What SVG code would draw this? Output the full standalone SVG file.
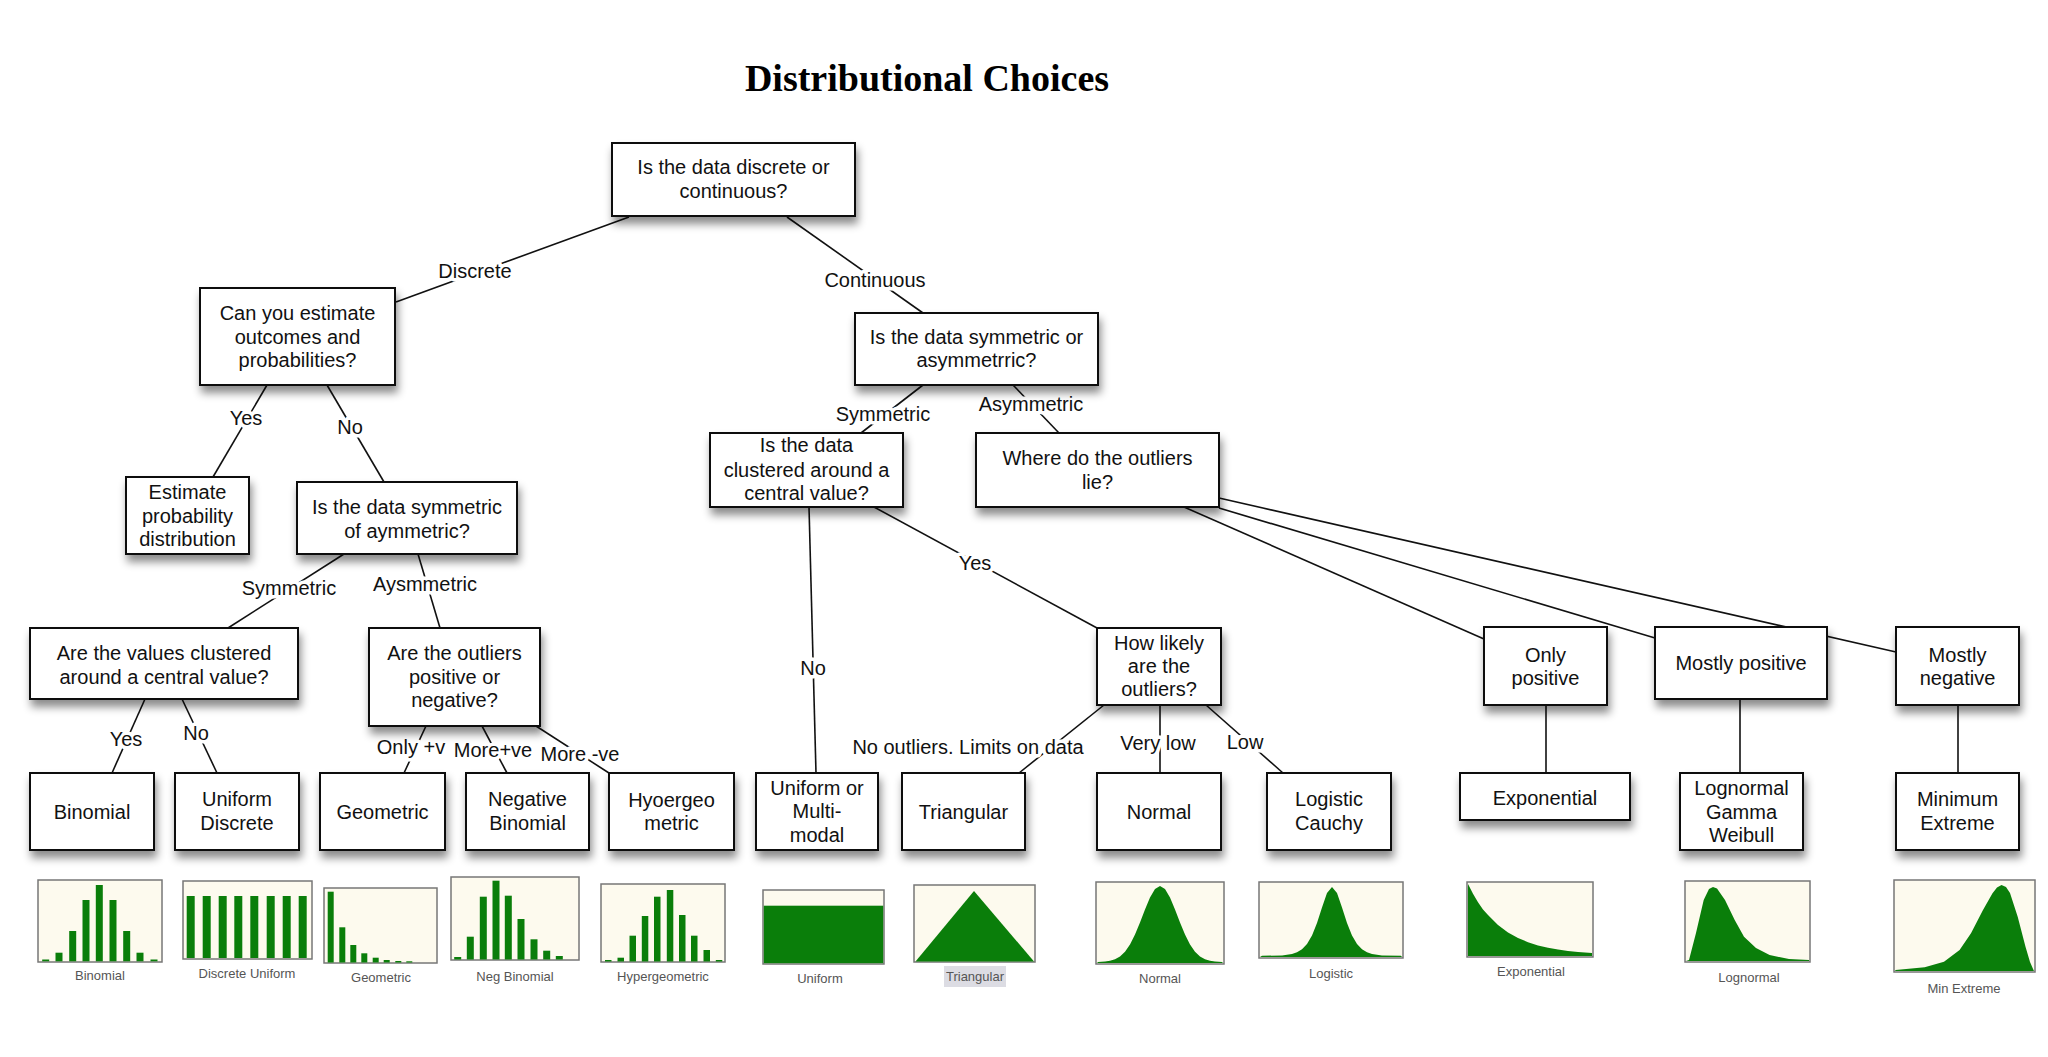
<svg xmlns="http://www.w3.org/2000/svg" width="2048" height="1057" viewBox="0 0 2048 1057">
<defs>
<filter id="sh" x="-20%" y="-20%" width="140%" height="160%">
<feDropShadow dx="2" dy="7" stdDeviation="4" flood-color="#000" flood-opacity="0.45"/>
</filter>
<style>
.bx{fill:#fff;stroke:#111;stroke-width:2;filter:url(#sh)}
.t{font-family:"Liberation Sans",Arial,sans-serif;font-size:20px;text-anchor:middle;fill:#111}
.lbl{font-family:"Liberation Sans",Arial,sans-serif;font-size:20px;text-anchor:middle;fill:#111;stroke:#fff;stroke-width:7;stroke-linejoin:round;paint-order:stroke}
.cn{stroke:#111;stroke-width:1.6;fill:none}
.ch{fill:#fdfaee;stroke:#777;stroke-width:1.5}
.g{fill:#0a7e0a}
.cl{font-family:"Liberation Sans",Arial,sans-serif;font-size:13px;text-anchor:middle;fill:#555}
</style>
</defs>
<rect width="2048" height="1057" fill="#fff"/>
<text x="927" y="91" font-family="Liberation Serif,'Times New Roman',serif" font-size="38" font-weight="bold" text-anchor="middle" fill="#000">Distributional Choices</text>

<g id="connectors">
<line class="cn" x1="629" y1="217" x2="396" y2="302"/>
<line class="cn" x1="787" y1="217" x2="923" y2="313"/>
<line class="cn" x1="267" y1="385" x2="213" y2="477"/>
<line class="cn" x1="327" y1="385" x2="384" y2="482"/>
<line class="cn" x1="344" y1="554" x2="228" y2="628"/>
<line class="cn" x1="418" y1="554" x2="440" y2="628"/>
<line class="cn" x1="923" y1="385" x2="861" y2="433"/>
<line class="cn" x1="1013" y1="385" x2="1059" y2="433"/>
<line class="cn" x1="809" y1="507" x2="816" y2="773"/>
<line class="cn" x1="874" y1="507" x2="1097" y2="628"/>
<line class="cn" x1="1184" y1="507" x2="1484" y2="639"/>
<line class="cn" x1="1219" y1="508" x2="1655" y2="638"/>
<line class="cn" x1="1219" y1="498" x2="1896" y2="652"/>
<line class="cn" x1="145" y1="699" x2="112" y2="773"/>
<line class="cn" x1="182" y1="699" x2="217" y2="773"/>
<line class="cn" x1="426" y1="726" x2="404" y2="773"/>
<line class="cn" x1="482" y1="726" x2="507" y2="773"/>
<line class="cn" x1="536" y1="726" x2="609" y2="773"/>
<line class="cn" x1="1104" y1="705" x2="1019" y2="773"/>
<line class="cn" x1="1160" y1="705" x2="1160" y2="773"/>
<line class="cn" x1="1206" y1="705" x2="1283" y2="773"/>
<line class="cn" x1="1546" y1="705" x2="1546" y2="773"/>
<line class="cn" x1="1740" y1="699" x2="1740" y2="773"/>
<line class="cn" x1="1958" y1="705" x2="1958" y2="773"/>
<text class="lbl" x="475" y="278">Discrete</text>
<text class="lbl" x="875" y="287">Continuous</text>
<text class="lbl" x="246" y="425">Yes</text>
<text class="lbl" x="350" y="434">No</text>
<text class="lbl" x="289" y="595">Symmetric</text>
<text class="lbl" x="425" y="591">Aysmmetric</text>
<text class="lbl" x="883" y="421">Symmetric</text>
<text class="lbl" x="1031" y="411">Asymmetric</text>
<text class="lbl" x="813" y="675">No</text>
<text class="lbl" x="975" y="570">Yes</text>
<text class="lbl" x="126" y="746">Yes</text>
<text class="lbl" x="196" y="740">No</text>
<text class="lbl" x="411" y="754">Only +v</text>
<text class="lbl" x="493" y="757">More+ve</text>
<text class="lbl" x="580" y="761">More -ve</text>
<text class="lbl" x="968" y="754">No outliers. Limits on data</text>
<text class="lbl" x="1158" y="750">Very low</text>
<text class="lbl" x="1245" y="749">Low</text>
</g>

<g id="n-root"><rect class="bx" x="612" y="143" width="243" height="73"/><text class="t"><tspan x="733.5" y="174">Is the data discrete or</tspan><tspan x="733.5" y="198">continuous?</tspan></text></g>
<g id="n-estimate-q"><rect class="bx" x="200" y="288" width="195" height="97"/><text class="t"><tspan x="297.5" y="320">Can you estimate</tspan><tspan x="297.5" y="344">outcomes and</tspan><tspan x="297.5" y="367">probabilities?</tspan></text></g>
<g id="n-estimate"><rect class="bx" x="126" y="477" width="123" height="77"/><text class="t"><tspan x="187.5" y="499">Estimate</tspan><tspan x="187.5" y="522.5">probability</tspan><tspan x="187.5" y="546">distribution</tspan></text></g>
<g id="n-disc-sym"><rect class="bx" x="297" y="482" width="220" height="72"/><text class="t"><tspan x="407" y="514">Is the data symmetric</tspan><tspan x="407" y="538">of aymmetric?</tspan></text></g>
<g id="n-cont-sym"><rect class="bx" x="855" y="313" width="243" height="72"/><text class="t"><tspan x="976.5" y="343.5">Is the data symmetric or</tspan><tspan x="976.5" y="366.5">asymmetrric?</tspan></text></g>
<g id="n-cont-clustered"><rect class="bx" x="710" y="433" width="193" height="74"/><text class="t"><tspan x="806.5" y="452">Is the data</tspan><tspan x="806.5" y="477">clustered around a</tspan><tspan x="806.5" y="500">central value?</tspan></text></g>
<g id="n-where"><rect class="bx" x="976" y="433" width="243" height="74"/><text class="t"><tspan x="1097.5" y="465">Where do the outliers</tspan><tspan x="1097.5" y="488.5">lie?</tspan></text></g>
<g id="n-disc-clustered"><rect class="bx" x="30" y="628" width="268" height="71"/><text class="t"><tspan x="164" y="659.5">Are the values clustered</tspan><tspan x="164" y="683.5">around a central value?</tspan></text></g>
<g id="n-outliers-sign"><rect class="bx" x="369" y="628" width="171" height="98"/><text class="t"><tspan x="454.5" y="659.5">Are the outliers</tspan><tspan x="454.5" y="683.5">positive or</tspan><tspan x="454.5" y="707">negative?</tspan></text></g>
<g id="n-how-likely"><rect class="bx" x="1097" y="628" width="124" height="77"/><text class="t"><tspan x="1159" y="649.5">How likely</tspan><tspan x="1159" y="672.5">are the</tspan><tspan x="1159" y="696">outliers?</tspan></text></g>
<g id="n-only-pos"><rect class="bx" x="1484" y="627" width="123" height="78"/><text class="t"><tspan x="1545.5" y="662">Only</tspan><tspan x="1545.5" y="685">positive</tspan></text></g>
<g id="n-mostly-pos"><rect class="bx" x="1655" y="627" width="172" height="72"/><text class="t" x="1741" y="670">Mostly positive</text></g>
<g id="n-mostly-neg"><rect class="bx" x="1896" y="627" width="123" height="78"/><text class="t"><tspan x="1957.5" y="662">Mostly</tspan><tspan x="1957.5" y="685">negative</tspan></text></g>

<g id="n-binomial"><rect class="bx" x="30" y="773" width="124" height="77"/><text class="t" x="92" y="818.5">Binomial</text></g>
<g id="n-unif-disc"><rect class="bx" x="175" y="773" width="124" height="77"/><text class="t"><tspan x="237" y="806">Uniform</tspan><tspan x="237" y="830">Discrete</tspan></text></g>
<g id="n-geometric"><rect class="bx" x="320" y="773" width="125" height="77"/><text class="t" x="382.5" y="818.5">Geometric</text></g>
<g id="n-negbin"><rect class="bx" x="466" y="773" width="123" height="77"/><text class="t"><tspan x="527.5" y="806">Negative</tspan><tspan x="527.5" y="830">Binomial</tspan></text></g>
<g id="n-hyper"><rect class="bx" x="609" y="773" width="125" height="77"/><text class="t"><tspan x="671.5" y="807">Hyoergeo</tspan><tspan x="671.5" y="830">metric</tspan></text></g>
<g id="n-uniform"><rect class="bx" x="756" y="773" width="122" height="77"/><text class="t"><tspan x="817" y="795">Uniform or</tspan><tspan x="817" y="818">Multi-</tspan><tspan x="817" y="842">modal</tspan></text></g>
<g id="n-triangular"><rect class="bx" x="902" y="773" width="123" height="77"/><text class="t" x="963.5" y="818.5">Triangular</text></g>
<g id="n-normal"><rect class="bx" x="1097" y="773" width="124" height="77"/><text class="t" x="1159" y="818.5">Normal</text></g>
<g id="n-logistic"><rect class="bx" x="1267" y="773" width="124" height="77"/><text class="t"><tspan x="1329" y="806">Logistic</tspan><tspan x="1329" y="830">Cauchy</tspan></text></g>
<g id="n-exponential"><rect class="bx" x="1460" y="773" width="170" height="47"/><text class="t" x="1545" y="805">Exponential</text></g>
<g id="n-lognormal"><rect class="bx" x="1680" y="773" width="123" height="77"/><text class="t"><tspan x="1741.5" y="795">Lognormal</tspan><tspan x="1741.5" y="819">Gamma</tspan><tspan x="1741.5" y="842">Weibull</tspan></text></g>
<g id="n-minext"><rect class="bx" x="1896" y="773" width="123" height="77"/><text class="t"><tspan x="1957.5" y="806">Minimum</tspan><tspan x="1957.5" y="830">Extreme</tspan></text></g>

<g id="charts">
<g id="c-binomial">
<rect class="ch" x="38" y="880" width="124" height="82"/>
<g class="g">
<rect x="42.2" y="959.5" width="7" height="1.8"/><rect x="55.5" y="952.7" width="7" height="8.6"/><rect x="69.2" y="931" width="7" height="30.3"/><rect x="82.5" y="900" width="7" height="61.3"/><rect x="95.8" y="885" width="7" height="76.3"/><rect x="109.5" y="900" width="7" height="61.3"/><rect x="123.2" y="931" width="7" height="30.3"/><rect x="136.5" y="952.7" width="7" height="8.6"/><rect x="150.5" y="959.5" width="7" height="1.8"/>
</g>
<text class="cl" x="100" y="980">Binomial</text>
</g>
<g id="c-discunif">
<rect class="ch" x="183" y="881" width="129" height="78"/>
<g class="g">
<rect x="186.7" y="896" width="8" height="62"/><rect x="202.7" y="896" width="8" height="62"/><rect x="218.7" y="896" width="8" height="62"/><rect x="234.3" y="896" width="8" height="62"/><rect x="250.3" y="896" width="8" height="62"/><rect x="266.7" y="896" width="8" height="62"/><rect x="282.7" y="896" width="8" height="62"/><rect x="298.7" y="896" width="8" height="62"/>
</g>
<text class="cl" x="247" y="978">Discrete Uniform</text>
</g>
<g id="c-geometric">
<rect class="ch" x="324" y="888" width="113" height="75"/>
<g class="g">
<rect x="327.7" y="891.7" width="6" height="70.8"/><rect x="339.3" y="927.3" width="6" height="35.2"/><rect x="350.3" y="945" width="6" height="17.5"/><rect x="361.3" y="953.3" width="6" height="9.2"/><rect x="372.7" y="957.7" width="6" height="4.8"/><rect x="383.7" y="960" width="6" height="2.5"/><rect x="395.3" y="961" width="6" height="1.5"/><rect x="406.3" y="961.3" width="6" height="1.2"/>
</g>
<text class="cl" x="381" y="982">Geometric</text>
</g>
<g id="c-negbin">
<rect class="ch" x="451" y="877" width="128" height="83"/>
<g class="g">
<rect x="454.2" y="957" width="7" height="2.5"/><rect x="466.8" y="936.7" width="7" height="22.8"/><rect x="479.8" y="896.7" width="7" height="62.8"/><rect x="492.5" y="880.7" width="7" height="78.8"/><rect x="504.8" y="895.7" width="7" height="63.8"/><rect x="517.5" y="919" width="7" height="40.5"/><rect x="530.5" y="939.3" width="7" height="20.2"/><rect x="543.2" y="950.7" width="7" height="8.8"/><rect x="555.8" y="956" width="7" height="3.5"/>
</g>
<text class="cl" x="515" y="981">Neg Binomial</text>
</g>
<g id="c-hyper">
<rect class="ch" x="601" y="884" width="124" height="78"/>
<g class="g">
<rect x="605" y="960" width="6.5" height="1.5"/><rect x="617.5" y="957.7" width="6.5" height="3.8"/><rect x="629.5" y="935.7" width="6.5" height="25.8"/><rect x="641.8" y="916" width="6.5" height="45.5"/><rect x="654" y="896.7" width="6.5" height="64.8"/><rect x="666.8" y="890" width="6.5" height="71.5"/><rect x="679" y="915" width="6.5" height="46.5"/><rect x="691" y="935.7" width="6.5" height="25.8"/><rect x="703.5" y="950" width="6.5" height="11.5"/><rect x="715.8" y="960" width="6.5" height="1.5"/>
</g>
<text class="cl" x="663" y="981">Hypergeometric</text>
</g>
<g id="c-uniform">
<rect class="ch" x="763" y="890" width="121" height="74"/>
<rect class="g" x="763.8" y="905.7" width="119.4" height="57.5"/>
<text class="cl" x="820" y="983">Uniform</text>
</g>
<g id="c-triangular">
<rect class="ch" x="914" y="885" width="121" height="77"/>
<polygon class="g" points="915.5,961.5 974,891 1034,961.5"/>
<rect x="944" y="966" width="62" height="21" fill="#dcdce3"/>
<text class="cl" x="975" y="981">Triangular</text>
</g>
<g id="c-normal">
<rect class="ch" x="1096" y="882" width="128" height="82"/>
<polygon class="g" points="1097,963 1098,962 1105,961.5 1110,960.7 1115,959.2 1120,956.4 1125,951.7 1130,944.5 1135,934.6 1140,922.5 1145,909.4 1150,897.5 1155,889 1160,886 1165,889 1170,897.5 1175,909.4 1180,922.5 1185,934.6 1190,944.5 1195,951.7 1200,956.4 1205,959.2 1210,960.7 1215,961.5 1222,962 1223,963"/>
<text class="cl" x="1160" y="983">Normal</text>
</g>
<g id="c-logistic">
<rect class="ch" x="1259" y="882" width="144" height="76"/>
<polygon class="g" points="1260,957 1262,955.8 1282,955.4 1292,953.9 1297,952.2 1302,949.2 1307,944 1312,935.6 1317,923 1322,907.4 1327,893 1332,887 1337,893 1342,907.4 1347,923 1352,935.6 1357,944 1362,949.2 1367,952.2 1372,953.9 1382,955.4 1401,955.8 1402,957"/>
<text class="cl" x="1331" y="978">Logistic</text>
</g>
<g id="c-exponential">
<rect class="ch" x="1467" y="882" width="126" height="75"/>
<polygon class="g" points="1468,956 1468,884 1473,893.8 1478,902.3 1483,909.6 1488,914.9 1498,924.9 1508,932.4 1518,938 1528,942.2 1538,945.4 1548,947.8 1558,949.6 1568,950.9 1578,951.9 1592,953 1592,956"/>
<text class="cl" x="1531" y="976">Exponential</text>
</g>
<g id="c-lognormal">
<rect class="ch" x="1685" y="881" width="125" height="81"/>
<polygon class="g" points="1686,961 1689,960 1696,933 1703.7,900 1709,889 1713,887 1717,888.5 1725,900 1734.7,920 1744,936.7 1756,948 1769.6,955 1789,959 1809,960 1809,961"/>
<text class="cl" x="1749" y="982">Lognormal</text>
</g>
<g id="c-minext">
<rect class="ch" x="1894" y="880" width="141" height="92"/>
<polygon class="g" points="1895,971 1895.6,970 1924.7,967.3 1944,961.7 1959.6,950 1971,933.3 1983,910 1992.5,893.3 1997,887.5 2001.5,885 2006,887 2010,893 2017.7,916.7 2025.5,946.7 2030,962 2033.5,970 2034,971"/>
<text class="cl" x="1964" y="993">Min Extreme</text>
</g>
</g>
</svg>
